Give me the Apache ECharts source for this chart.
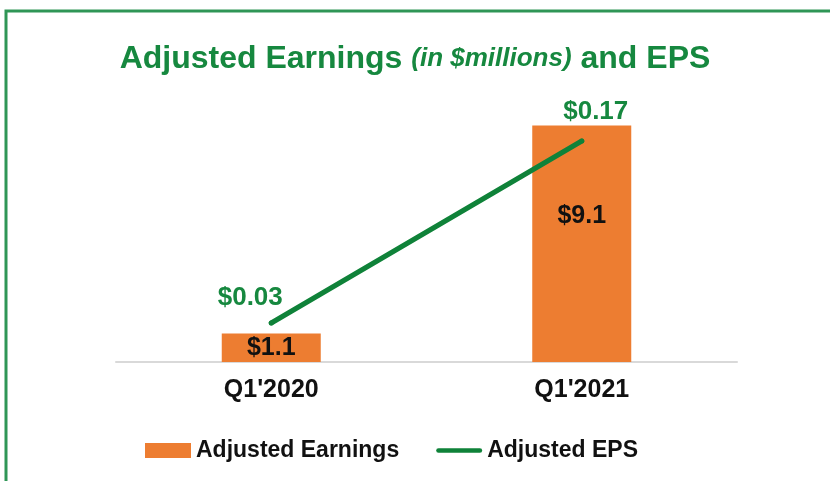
<!DOCTYPE html>
<html>
<head>
<meta charset="utf-8">
<script src="https://cdn.jsdelivr.net/npm/echarts@6/dist/echarts.min.js"></script>
<style>
  html, body { margin: 0; padding: 0; background: #fff; }
  #chart { width: 830px; height: 481px; }
</style>
</head>
<body>
<div id="chart"></div>
<script>
const categories = ["Q1'2020", "Q1'2021"]
const earnings = [1.1, 9.1]
const eps = [0.03, 0.17]

// label nudges (pixels) so they sit where the original deck put them
const earningsLabelOffset = [[0, 0], [0, -28]]
const epsLabelOffset = [[-21, -25], [14, -29]]

const FONT = "'Liberation Sans', Arial, sans-serif"
const GREEN = '#16883f'
const LINE_GREEN = '#0f8239'
const ORANGE = '#ed7d31'

const chart = echarts.init(document.getElementById('chart'))

const option = {
  backgroundColor: '#fff',
  animation: false,
  graphic: [
    {
      type: 'rect',
      shape: { x: 6, y: 11, width: 900, height: 600 },
      style: { fill: 'none', stroke: '#2f9656', lineWidth: 3 },
      silent: true
    }
  ],
  title: {
    text: '{a|Adjusted Earnings }{b|(in $millions)}{a| and EPS}',
    left: 'center',
    top: 38,
    textStyle: {
      rich: {
        a: { fontFamily: FONT, fontWeight: 'bold', fontSize: 32, color: GREEN },
        b: { fontFamily: FONT, fontWeight: 'bold', fontStyle: 'italic', fontSize: 26, color: GREEN }
      }
    }
  },
  legend: {
    left: 145,
    top: 439,
    padding: 0,
    itemWidth: 46,
    itemHeight: 15,
    itemGap: 37,
    textStyle: { fontFamily: FONT, fontWeight: 'bold', fontSize: 23, color: '#111' },
    data: [
      { name: 'Adjusted Earnings', icon: 'rect' },
      { name: 'Adjusted EPS', icon: 'path://M2.5,0 L47.5,0 A2.5,2.5 0 0 1 47.5,5 L2.5,5 A2.5,2.5 0 0 1 2.5,0 Z' }
    ]
  },
  grid: { left: 116, right: 93, top: 102, bottom: 119 },
  xAxis: {
    type: 'category',
    data: categories,
    axisTick: { show: false },
    axisLine: { lineStyle: { color: '#d9d9d9', width: 2 } },
    axisLabel: { fontFamily: FONT, fontWeight: 'bold', fontSize: 25, color: '#111', margin: 16 }
  },
  yAxis: [
    { type: 'value', min: 0, max: 10, show: false, splitLine: { show: false } },
    { type: 'value', min: 0, max: 0.2, show: false, splitLine: { show: false } }
  ],
  series: [
    {
      name: 'Adjusted Earnings',
      type: 'bar',
      barWidth: 99,
      itemStyle: { color: ORANGE },
      data: earnings.map((v, i) => ({
        value: v,
        label: { offset: earningsLabelOffset[i] }
      })),
      label: {
        show: true,
        position: 'inside',
        fontFamily: FONT,
        fontWeight: 'bold',
        fontSize: 25,
        color: '#111',
        formatter: p => '$' + p.value.toFixed(1)
      }
    },
    {
      name: 'Adjusted EPS',
      type: 'line',
      yAxisIndex: 1,
      z: 5,
      symbol: 'circle',
      symbolSize: 5,
      itemStyle: { color: LINE_GREEN },
      lineStyle: { color: LINE_GREEN, width: 5, cap: 'round' },
      data: eps.map((v, i) => ({
        value: v,
        label: { offset: epsLabelOffset[i] }
      })),
      label: {
        show: true,
        position: 'inside',
        fontFamily: FONT,
        fontWeight: 'bold',
        fontSize: 26,
        color: GREEN,
        formatter: p => '$' + p.value.toFixed(2)
      }
    }
  ]
}

chart.setOption(option)
</script>
</body>
</html>
